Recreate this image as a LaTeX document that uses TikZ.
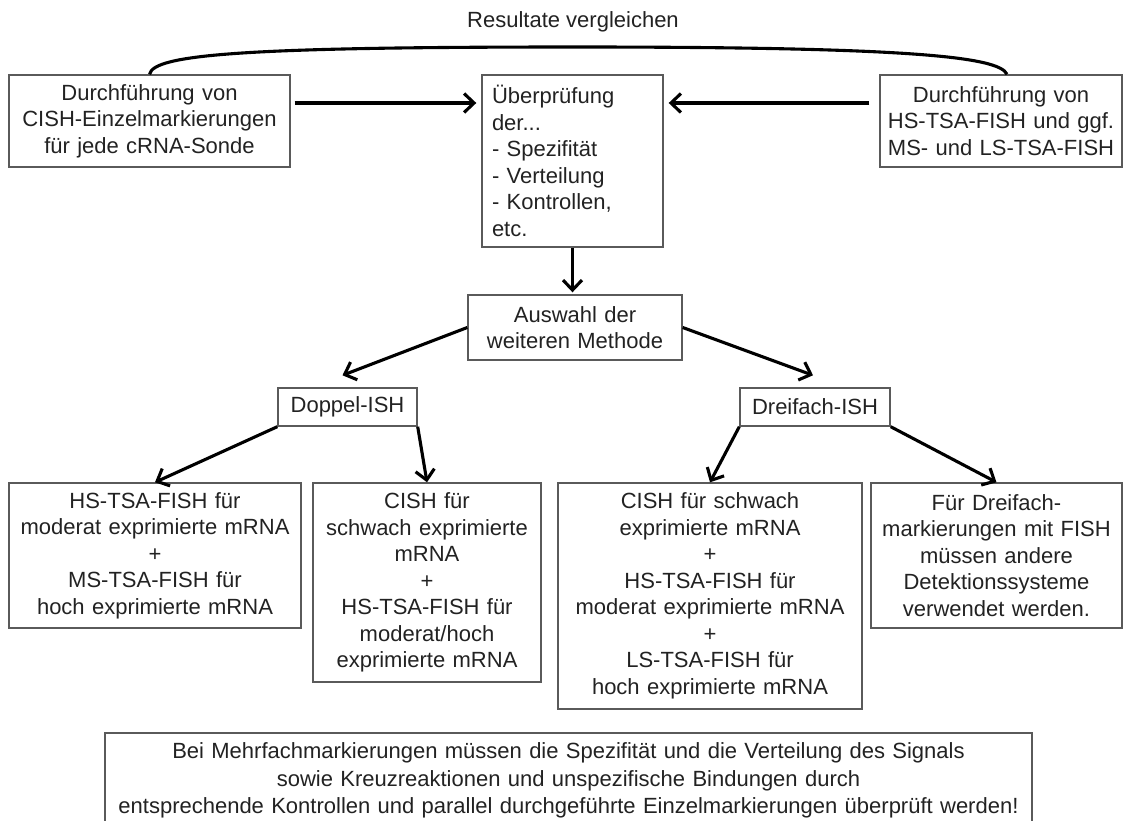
\documentclass[tikz,border=0pt]{standalone}
\usepackage{fontspec}
\setmainfont{Liberation Sans}
\usetikzlibrary{arrows.meta}
\definecolor{ink}{HTML}{222222}
\definecolor{frame}{HTML}{5A5A5A}
\begin{document}
\begin{tikzpicture}[x=1pt, y=-1pt,
  font=\fontsize{22pt}{26.5pt}\selectfont, text=ink,
  box/.style={draw=frame, line width=1.4pt, align=center, inner sep=0pt},
  arr/.style={line width=3.1pt, -{Straight Barb[length=10pt,width=19pt]}}]
\useasboundingbox (0,0) rectangle (1124,821);
\node (resl) at (573,22) {Resultate vergleichen};
\node[box, text width=281pt, minimum height=92pt] (cish) at (149.5,121) {Durchführung von\\CISH-Einzelmarkierungen\\für jede cRNA-Sonde};
\node[box, align=left, text width=161pt, inner xsep=10pt, minimum height=172pt] (check) at (572.5,161) {Überprüfung\\der...\\- Spezifität\\- Verteilung\\- Kontrollen,\\etc.};
\node[box, text width=242pt, minimum height=92pt] (tsa) at (1001,121) {Durchführung von\\HS-TSA-FISH und ggf.\\MS- und LS-TSA-FISH};
\node[box, text width=214pt, minimum height=65pt] (choice) at (575,327.5) {Auswahl der\\weiteren Methode};
\node[box, text width=139pt, minimum height=38pt] (doppel) at (347.5,407) {Doppel-ISH};
\node[box, text width=150pt, minimum height=38pt] (dreifach) at (815,407) {Dreifach-ISH};
\node[box, text width=292pt, minimum height=145pt] (b1) at (155,555.5) {HS-TSA-FISH für\\moderat exprimierte mRNA\\+\\MS-TSA-FISH für\\hoch exprimierte mRNA};
\node[box, text width=228pt, minimum height=199pt] (b2) at (427,582.5) {CISH für\\schwach exprimierte\\mRNA\\+\\HS-TSA-FISH für\\moderat/hoch\\exprimierte mRNA};
\node[box, text width=304pt, minimum height=226pt] (b3) at (710,596) {CISH für schwach\\exprimierte mRNA\\+\\HS-TSA-FISH für\\moderat exprimierte mRNA\\+\\LS-TSA-FISH für\\hoch exprimierte mRNA};
\node[box, text width=251pt, minimum height=145pt] (b4) at (996.5,555.5) {Für Dreifach-\\markierungen mit FISH\\müssen andere\\Detektionssysteme\\verwendet werden.};
\node[box, font=\fontsize{22pt}{27.5pt}\selectfont, text width=927pt, minimum height=95pt] (note) at (568.5,780.5) {Bei Mehrfachmarkierungen müssen die Spezifität und die Verteilung des Signals\\sowie Kreuzreaktionen und unspezifische Bindungen durch\\entsprechende Kontrollen und parallel durchgeführte Einzelmarkierungen überprüft werden!};
% Vergleich der Resultate
\coordinate (peak) at (575,47);
\draw[line width=3.1pt] (cish.north) .. controls +(4,-20) and +(-330,0) .. (peak) .. controls +(330,0) and +(-8,-18) .. ([xshift=6pt]tsa.north);
\draw[arr] ([shift={(4pt,18pt)}]cish.east) -- ([shift={(-5pt,58pt)}]check.west);
\draw[arr] ([shift={(-10pt,18pt)}]tsa.west) -- ([shift={(5pt,58pt)}]check.east);
\draw[arr] (check.south) -- ([yshift=2pt]check.south |- choice.north);
\draw[arr] (choice.west) -- ([shift={(-5pt,12pt)}]doppel.north);
\draw[arr] (choice.east) -- ([shift={(-2pt,12pt)}]dreifach.north);
\draw[arr] (doppel.south west) -- (b1.north);
\draw[arr] (doppel.south east) -- (b2.north);
\draw[arr] (dreifach.south west) -- (b3.north);
\draw[arr] (dreifach.south east) -- (b4.north);
\end{tikzpicture}
\end{document}
